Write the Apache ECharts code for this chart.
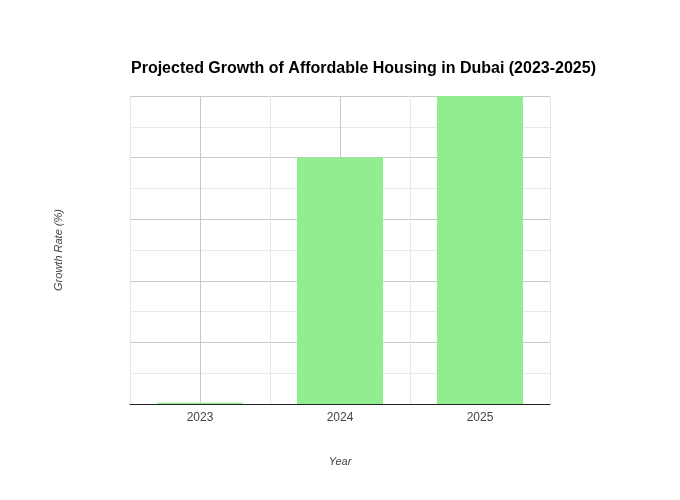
<!DOCTYPE html>
<html>
<head>
<meta charset="utf-8">
<script src="https://cdn.jsdelivr.net/npm/echarts@6/dist/echarts.min.js"></script>
<style>html,body{margin:0;padding:0;background:#fff}#c{width:680px;height:500px}</style>
</head>
<body>
<div id="c"></div>
<script>
var categories = ['2023', '2024', '2025'];
var growthRate = [0.04, 8, 10];
var titleText = 'Projected Growth of Affordable Housing in Dubai (2023-2025)';
var xName = 'Year';
var yName = 'Growth Rate (%)';

var chart = echarts.init(document.getElementById('c'), null, {renderer: 'canvas'});
chart.setOption({
  backgroundColor: '#fff',
  animation: false,
  title: {
    text: titleText,
    left: 126,
    top: 56,
    textStyle: {fontFamily: 'Liberation Sans, Arial, sans-serif', fontSize: 16, fontWeight: 'bold', color: '#000'}
  },
  grid: {left: 130, right: 130, top: 96, bottom: 96, containLabel: false},
  xAxis: [{
    type: 'category',
    data: categories,
    name: xName,
    nameLocation: 'middle',
    nameGap: 52,
    nameTextStyle: {fontFamily: 'Liberation Sans, Arial, sans-serif', fontSize: 11, fontStyle: 'italic', color: '#444'},
    axisLine: {show: true, lineStyle: {color: '#222', width: 1}},
    axisTick: {show: false},
    axisLabel: {fontFamily: 'Liberation Sans, Arial, sans-serif', fontSize: 12, color: '#444', margin: 8},
    splitLine: {show: true, alignWithLabel: true, lineStyle: {color: '#c8c8c8', width: 1}}
  }, {
    type: 'category',
    data: categories,
    position: 'bottom',
    axisLine: {show: false},
    axisTick: {show: false},
    axisLabel: {show: false},
    splitLine: {show: true, lineStyle: {color: '#e8e8e8', width: 1}}
  }],
  yAxis: {
    type: 'value',
    min: 0,
    max: 10,
    interval: 2,
    name: yName,
    nameLocation: 'middle',
    nameGap: 66,
    nameTextStyle: {fontFamily: 'Liberation Sans, Arial, sans-serif', fontSize: 11, fontStyle: 'italic', color: '#444'},
    axisLine: {show: false},
    axisTick: {show: false},
    axisLabel: {show: false},
    splitLine: {show: true, lineStyle: {color: '#c8c8c8', width: 1}},
    minorTick: {show: false, splitNumber: 2},
    minorSplitLine: {show: true, lineStyle: {color: '#e8e8e8', width: 1}}
  },
  series: [{
    type: 'bar',
    data: growthRate,
    xAxisIndex: 0,
    barWidth: 86,
    itemStyle: {color: '#90EE90'},
    z: 2
  }]
});
</script>
</body>
</html>
